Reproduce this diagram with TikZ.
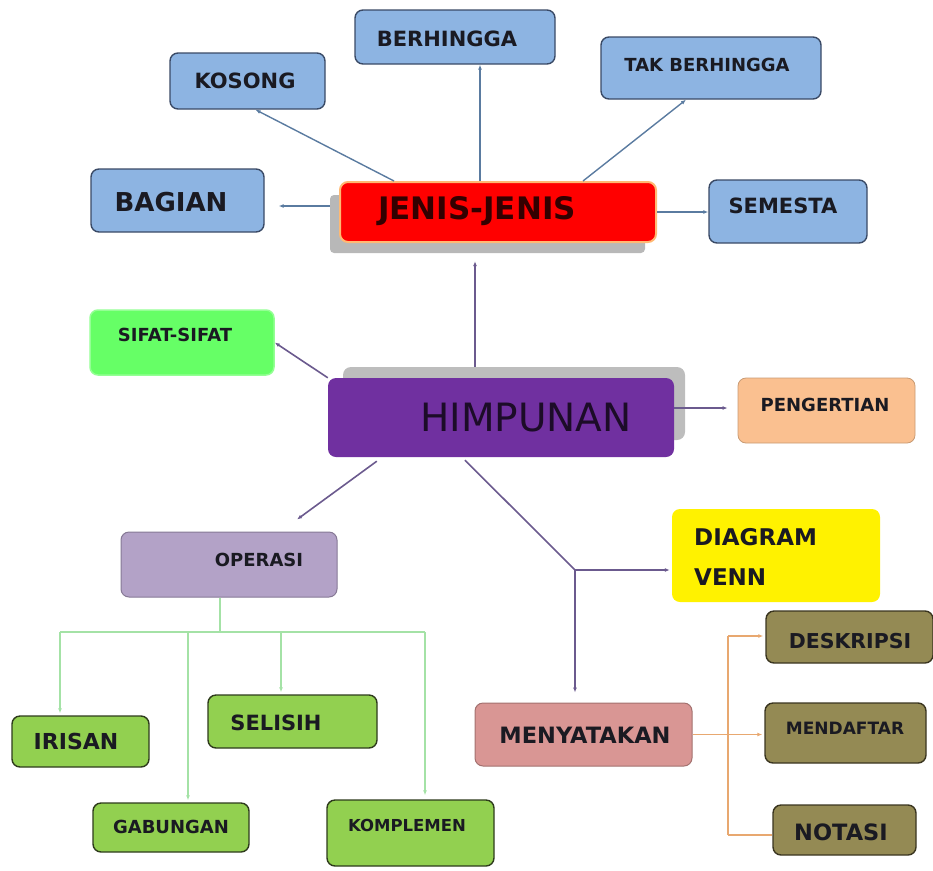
\documentclass[tikz,border=0pt]{standalone}
\usepackage{fontspec}
\setmainfont{DejaVu Sans}
\usetikzlibrary{arrows.meta,calc}
\newcommand\myfs[1]{\fontsize{#1}{#1}\selectfont}
\definecolor{blueF}{HTML}{8DB4E2}
\definecolor{blueD}{HTML}{3A4A66}
\definecolor{purF}{HTML}{7030A0}
\definecolor{sifF}{HTML}{66FF66}
\definecolor{peachF}{HTML}{FAC090}
\definecolor{lavF}{HTML}{B3A2C7}
\definecolor{grnF}{HTML}{92D050}
\definecolor{grnD}{HTML}{2E3B1C}
\definecolor{pinkF}{HTML}{D99694}
\definecolor{oliveF}{HTML}{948A54}
\definecolor{oliveD}{HTML}{3A3520}
\definecolor{lnBlue}{HTML}{5A7BA0}
\definecolor{lnPur}{HTML}{6B5A8E}
\definecolor{lnGrn}{HTML}{A4E2A6}
\definecolor{lnOr}{HTML}{E8A870}
\definecolor{txt}{HTML}{1A1A22}
\tikzset{
  box/.style={rounded corners=8pt, minimum width=#1, inner sep=0pt},
  bluebox/.style={box, fill=blueF, draw=blueD, line width=1.4pt},
  grnbox/.style={box, fill=grnF, draw=grnD, line width=1.4pt},
  olivebox/.style={box, fill=oliveF, draw=oliveD, line width=1.4pt},
  lbl/.style={text=txt, font=\bfseries, inner sep=0pt},
  tip/.style={-{Latex[length=5pt,width=4pt]}},
  bl/.style={draw=lnBlue, line width=1.4pt},
  pl/.style={draw=lnPur, line width=1.6pt},
  gl/.style={draw=lnGrn, line width=1.6pt},
  ol/.style={draw=lnOr, line width=1.6pt},
}
\begin{document}
\begin{tikzpicture}[x=1pt,y=-1pt]
\useasboundingbox (0,0) rectangle (933,870);
% --- boxes ---
\node[bluebox, minimum width=155pt, minimum height=56pt] (kos) at (247.5,81) {};
\node[bluebox, minimum width=200pt, minimum height=54pt] (ber) at (455,37) {};
\node[bluebox, minimum width=220pt, minimum height=62pt] (tak) at (711,68) {};
\node[bluebox, minimum width=173pt, minimum height=63pt] (bag) at (177.5,200.5) {};
\node[box, fill=black!28, minimum width=315pt, minimum height=58pt, rounded corners=4pt] (jsh) at (487.5,224) {};
\node[box, fill=red, draw=orange!55, line width=2pt, minimum width=316pt, minimum height=60pt] (jen) at (498,212) {};
\node[bluebox, minimum width=158pt, minimum height=63pt] (sem) at (788,211.5) {};
\node[box, fill=sifF, draw=sifF!70!white, line width=1.5pt, minimum width=184pt, minimum height=65pt] (sif) at (182,342.5) {};
\node[box, fill=black!26, minimum width=342pt, minimum height=73pt] (hsh) at (514,403.5) {};
\node[box, fill=purF, minimum width=346pt, minimum height=79pt] (him) at (501,417.5) {};
\node[box, fill=peachF, draw=peachF!80!black, line width=0.8pt, minimum width=177pt, minimum height=65pt] (pen) at (826.5,410.5) {};
\node[box, fill=yellow, minimum width=208pt, minimum height=93pt] (dia) at (776,555.5) {};
\node[box, fill=lavF, draw=lavF!75!black, line width=1pt, minimum width=216pt, minimum height=65pt] (ope) at (229,564.5) {};
\node[grnbox, minimum width=137pt, minimum height=51pt] (iri) at (80.5,741.5) {};
\node[grnbox, minimum width=169pt, minimum height=53pt] (sel) at (292.5,721.5) {};
\node[grnbox, minimum width=156pt, minimum height=49pt] (gab) at (171,827.5) {};
\node[grnbox, minimum width=167pt, minimum height=66pt] (kom) at (410.5,833) {};
\node[box, fill=pinkF, draw=pinkF!75!black, line width=1pt, minimum width=217pt, minimum height=63pt] (men) at (583.5,734.5) {};
\node[olivebox, minimum width=167pt, minimum height=52pt] (des) at (849.5,637) {};
\node[olivebox, minimum width=161pt, minimum height=60pt] (mdf) at (845.5,733) {};
\node[olivebox, minimum width=143pt, minimum height=50pt] (not) at (844.5,830) {};
% --- labels ---
\node[lbl, font=\bfseries\myfs{21}] (kosT) at (245,81) {KOSONG};
\node[lbl, font=\bfseries\myfs{21}] (berT) at (447,39) {BERHINGGA};
\node[lbl, font=\bfseries\myfs{18}] (takT) at (707,65) {TAK BERHINGGA};
\node[lbl, font=\bfseries\myfs{26}] (bagT) at (171,202) {BAGIAN};
\node[lbl, font=\bfseries\myfs{31}, text=black!80!red] (jenT) at (477,211) {JENIS-JENIS};
\node[lbl, font=\bfseries\myfs{21}] (semT) at (783,206) {SEMESTA};
\node[lbl, font=\bfseries\myfs{18}] (sifT) at (175,335) {SIFAT-SIFAT};
\node[inner sep=0pt, text=black!75!purF, font=\myfs{39}] (himT) at (526,418) {HIMPUNAN};
\node[lbl, font=\bfseries\myfs{18}] (penT) at (825,405) {PENGERTIAN};
\node[lbl, align=left, anchor=west, font=\bfseries\fontsize{23}{40}\selectfont] (diaT) at (694,557) {DIAGRAM\\VENN};
\node[lbl, font=\bfseries\myfs{18}] (opeT) at (259,560) {OPERASI};
\node[lbl, font=\bfseries\myfs{22}] (iriT) at (76,741) {IRISAN};
\node[lbl, font=\bfseries\myfs{21}] (selT) at (276,723) {SELISIH};
\node[lbl, font=\bfseries\myfs{18}] (gabT) at (171,827) {GABUNGAN};
\node[lbl, font=\bfseries\myfs{16.5}] (komT) at (407,825) {KOMPLEMEN};
\node[lbl, font=\bfseries\myfs{22.5}] (menT) at (585,735) {MENYATAKAN};
\node[lbl, font=\bfseries\myfs{20.5}] (desT) at (850,641) {DESKRIPSI};
\node[lbl, font=\bfseries\myfs{17}] (mdfT) at (845,728) {MENDAFTAR};
\node[lbl, font=\bfseries\myfs{22.5}] (notT) at (841,832) {NOTASI};
% --- JENIS-JENIS connectors ---
\draw[bl, tip] ($(jen.north west)+(55,0)$) -- ($(kos.south)+(8,0)$);
\draw[bl, tip] (jen.north -| 480,0) -- (ber.south -| 480,0);
\draw[bl, tip] ($(jen.north)+(85,0)$) -- ($(tak.south)+(-25,0)$);
\draw[bl, tip, shorten >=14pt] (jsh.west |- 0,206) -- (bag.east |- 0,206);
\draw[bl, tip] (jen.east) -- (sem.west |- jen.east);
% --- HIMPUNAN connectors ---
\draw[pl, tip, shorten >=8pt] (hsh.north -| 475,0) -- (jsh.south -| 475,0);
\draw[pl, tip] (him.north west) -- (sif.east);
\draw[pl, tip, shorten >=10pt] (him.east |- 0,408) -- (pen.west |- 0,408);
\draw[pl, tip] ($(him.south west)+(49,4)$) -- ($(ope.north)+(68,-12)$);
\coordinate (j) at (575,570);
\draw[pl] ($(him.south)+(-36,3)$) -- (j);
\draw[pl, tip, shorten >=2pt] (j) -- (dia.west |- j);
\draw[pl, tip, shorten >=10pt] (j) -- (men.north -| j);
% --- OPERASI tree ---
\coordinate (ob) at (220,632);
\coordinate (obL) at (60,632);
\coordinate (obR) at (425,632);
\draw[gl] (ope.south -| ob) -- (ob);
\draw[gl] (obL) -- (obR);
\draw[gl, tip, shorten >=2pt] (obL) -- (iri.north -| obL);
\draw[gl, tip, shorten >=2pt] (188,632) -- (gab.north -| 188,0);
\draw[gl, tip, shorten >=2pt] (281,632) -- (sel.north -| 281,0);
\draw[gl, tip, shorten >=4pt] (obR) -- (kom.north -| obR);
% --- MENYATAKAN tree ---
\coordinate (mt) at (728,636);
\coordinate (mb) at (728,835);
\draw[ol, tip, shorten >=2pt] (men.east) -- (mdf.west |- men.east);
\draw[ol] (mt) -- (mb);
\draw[ol, tip, shorten >=2pt] (mt) -- (des.west |- mt);
\draw[ol] (mb) -- (not.west |- mb);
\end{tikzpicture}
\end{document}
